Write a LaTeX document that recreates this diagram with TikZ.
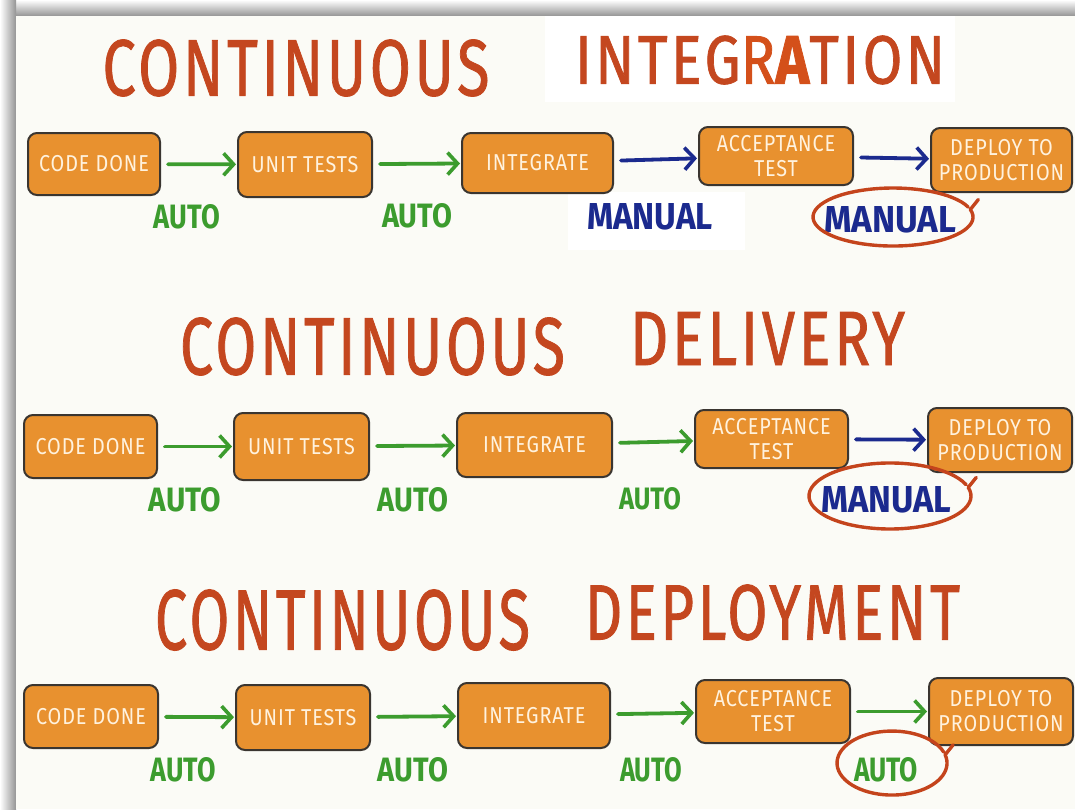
\documentclass[tikz,border=0pt]{standalone}
\usepackage{fontspec}
\setmainfont{Fira Sans}
\newfontfamily\boxfam{Fira Sans}[FakeStretch=0.86, LetterSpace=4]
\newfontfamily\ttlfam{Fira Sans}[LetterSpace=6, FakeBold=1.2]
\usepackage{graphicx}
\usetikzlibrary{arrows.meta}
\definecolor{bg}{HTML}{FBFBF6}
\definecolor{tred}{HTML}{C4471F}
\definecolor{tred2}{HTML}{D4501A}
\definecolor{boxfill}{HTML}{E8912F}
\definecolor{boxline}{HTML}{3A3530}
\definecolor{boxtext}{HTML}{FFF2DE}
\definecolor{agreen}{HTML}{3C9C2E}
\definecolor{ablue}{HTML}{1B2A8E}
\definecolor{loopred}{HTML}{C4441C}
\newcommand{\bxfont}{\boxfam\fontsize{23}{25}\selectfont}
\newcommand{\ttl}[3]{\resizebox{#1pt}{#2pt}{\ttlfam\color{tred}#3}}
\newcommand{\lbl}[3]{\resizebox{#1pt}{#2pt}{\bfseries #3}}
\tikzset{
  stepbox/.style={draw=boxline, line width=2pt, fill=boxfill, rounded corners=9pt,
    text=boxtext, font=\bxfont, align=center, inner sep=0pt},
  garrow/.style={draw=agreen, line width=3.8pt, line cap=round,
    -{Straight Barb[length=10pt,width=22pt,line width=3.6pt]}, shorten <=7pt, shorten >=1pt},
  barrow/.style={draw=ablue, line width=3.8pt, line cap=round,
    -{Straight Barb[length=10pt,width=22pt,line width=3.6pt]}, shorten <=7pt, shorten >=1pt},
  autolbl/.style={text=agreen, inner sep=0pt},
  manlbl/.style={text=ablue, inner sep=0pt},
  loop/.style={draw=loopred, line width=3.4pt, line cap=round, line join=round},
  ttlnode/.style={inner sep=0pt}
}
\begin{document}
\begin{tikzpicture}[x=1pt,y=-1pt]
\useasboundingbox (0,0) rectangle (1075,809);
% frame
\shade[top color=white, bottom color=black!42] (0,0) rectangle (1075,16);
\shade[left color=white, right color=black!42] (0,0) rectangle (16,809);
\fill[bg] (16,16) rectangle (1075,809);
\fill[white] (545,16) rectangle (955,102);
\fill[white] (568,192) rectangle (745,250);

% ---------------- Continuous Integration ----------------
\node[ttlnode] (t1a) at (296,68) {\ttl{387}{56}{CONTINUOUS}};
\node[ttlnode] (t1b) at (760,60) {\ttl{370}{48}{INTEG\textcolor{tred2}{R}{\bfseries\textcolor{tred2}{A}}TION}};

\node[stepbox, minimum width=132pt, minimum height=62pt] (cd1) at (94,164) {CODE DONE};
\node[stepbox, minimum width=134pt, minimum height=65pt] (ut1) at (305,164.5) {UNIT TESTS};
\node[stepbox, minimum width=151pt, minimum height=60pt] (in1) at (537.5,163) {INTEGRATE};
\node[stepbox, minimum width=154pt, minimum height=58pt] (ac1) at (776,156) {ACCEPTANCE\\TEST};
\node[stepbox, minimum width=141pt, minimum height=64pt] (dp1) at (1001.5,160) {DEPLOY TO\\PRODUCTION};

\draw[garrow] (cd1) -- (ut1);
\draw[garrow] (ut1) -- (in1);
\draw[barrow] (in1) -- (ac1);
\draw[barrow] (ac1) -- (dp1);

\node[autolbl] (l1a) at (187,217) {\lbl{66}{24}{AUTO}};
\node[autolbl] (l1b) at (417,216) {\lbl{70}{24}{AUTO}};
\node[manlbl] (l1c) at (650,217) {\lbl{126}{26}{MANUAL}};
\node[manlbl] (l1d) at (890,220) {\lbl{132}{26}{MANUAL}};
\draw[loop] (893+75.2,217-9.9) arc[start angle=-20, end angle=-375, x radius=80, y radius=29] -- ++(8,-10);

% ---------------- Continuous Delivery ----------------
\node[ttlnode] (t2a) at (372.5,346.5) {\ttl{385}{57}{CONTINUOUS}};
\node[ttlnode] (t2b) at (767.5,338.5) {\ttl{275}{53}{DELIVERY}};

\node[stepbox, minimum width=133pt, minimum height=63pt] (cd2) at (90.5,446.5) {CODE DONE};
\node[stepbox, minimum width=135pt, minimum height=67pt] (ut2) at (301.5,446.5) {UNIT TESTS};
\node[stepbox, minimum width=155pt, minimum height=64pt] (in2) at (534.5,445) {INTEGRATE};
\node[stepbox, minimum width=153pt, minimum height=58pt] (ac2) at (771.5,439) {ACCEPTANCE\\TEST};
\node[stepbox, minimum width=144pt, minimum height=64pt] (dp2) at (1000,440) {DEPLOY TO\\PRODUCTION};

\draw[garrow] (cd2) -- (ut2);
\draw[garrow] (ut2) -- (in2);
\draw[garrow] (in2) -- (ac2);
\draw[barrow] (ac2) -- (dp2);

\node[autolbl] (l2a) at (185,500) {\lbl{72}{24}{AUTO}};
\node[autolbl] (l2b) at (413,500) {\lbl{70}{24}{AUTO}};
\node[autolbl] (l2c) at (650,499) {\lbl{62}{22}{AUTO}};
\node[manlbl] (l2d) at (886,500) {\lbl{130}{26}{MANUAL}};
\draw[loop] (890+76.1,496-11.3) arc[start angle=-20, end angle=-375, x radius=81, y radius=33] -- ++(8,-10);

% ---------------- Continuous Deployment ----------------
\node[ttlnode] (t3a) at (342.5,620) {\ttl{375}{60}{CONTINUOUS}};
\node[ttlnode] (t3b) at (772.5,612.5) {\ttl{375}{55}{DEPLOYMENT}};

\node[stepbox, minimum width=134pt, minimum height=63pt] (cd3) at (91,716.5) {CODE DONE};
\node[stepbox, minimum width=134pt, minimum height=65pt] (ut3) at (303,717.5) {UNIT TESTS};
\node[stepbox, minimum width=152pt, minimum height=65pt] (in3) at (534,715.5) {INTEGRATE};
\node[stepbox, minimum width=154pt, minimum height=63pt] (ac3) at (773,711.5) {ACCEPTANCE\\TEST};
\node[stepbox, minimum width=144pt, minimum height=67pt] (dp3) at (1001,711.5) {DEPLOY TO\\PRODUCTION};

\draw[garrow] (cd3) -- (ut3);
\draw[garrow] (ut3) -- (in3);
\draw[garrow] (in3) -- (ac3);
\draw[garrow] (ac3) -- (dp3);

\node[autolbl] (l3a) at (183,770) {\lbl{65}{24}{AUTO}};
\node[autolbl] (l3b) at (413,770) {\lbl{70}{24}{AUTO}};
\node[autolbl] (l3c) at (651,770) {\lbl{62}{24}{AUTO}};
\node[autolbl] (l3d) at (886,770) {\lbl{64}{24}{AUTO}};
\draw[loop] (892+51.7,763-10.9) arc[start angle=-20, end angle=-375, x radius=55, y radius=32] -- ++(8,-10);
\end{tikzpicture}
\end{document}
